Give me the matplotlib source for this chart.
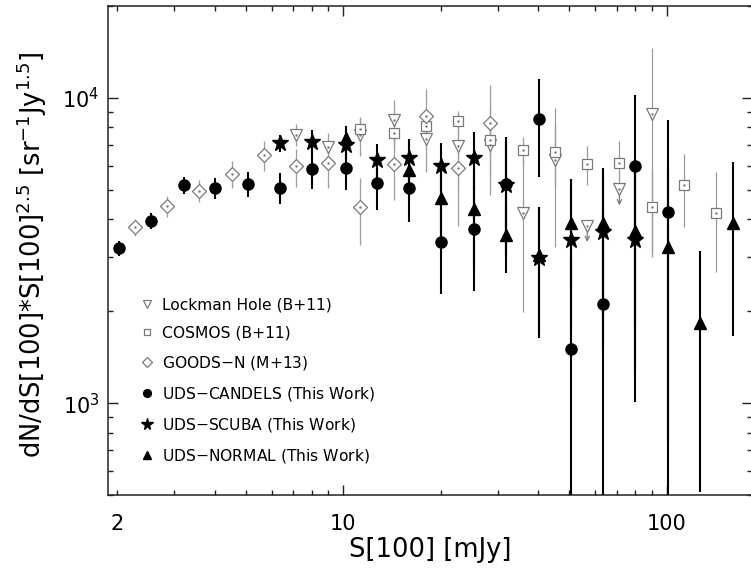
import numpy as np
import matplotlib.pyplot as plt
from matplotlib.ticker import FixedLocator, LogLocator, FuncFormatter, NullFormatter

# Lockman Hole (B+11) - two points are upper limits
lh_s = [7.13, 9.0, 11.3, 14.3, 18.0, 22.6, 28.5, 35.9, 45.1, 56.8, 71.4, 89.9]
lh_n = [7570, 6920, 7570, 8470, 7325, 6960, 7020, 4190, 6240, 3810, 5020, 8860]
lh_e = [630, 770, 1100, 1380, 1600, 1950, 2200, 2200, 3000, 0, 0, 5700]
lh_lim = [False, False, False, False, False, False, False, False, False, True, True, False]

# COSMOS (B+11)
cs_s = [11.3, 14.3, 18.0, 22.6, 28.5, 35.9, 45.1, 56.8, 71.4, 89.9, 113, 142]
cs_n = [7895, 7695, 8095, 8430, 7280, 6760, 6640, 6065, 6140, 4390, 5165, 4190]
cs_e = [700, 800, 800, 600, 800, 700, 1500, 900, 1085, 1370, 1390, 1510]

# GOODS-N (M+13)
gn_s = [2.27, 2.86, 3.59, 4.52, 5.70, 7.13, 9.0, 11.3, 14.3, 18.0, 22.6, 28.5]
gn_n = [3770, 4425, 4965, 5635, 6490, 5960, 6110, 4375, 6085, 8730, 5890, 8300]
gn_e = [250, 340, 420, 560, 750, 840, 1050, 1080, 1470, 2000, 2100, 2700]

# UDS-CANDELS (this work)
cd_s = [2.02, 2.55, 3.21, 4.02, 5.07, 6.37, 8.03, 10.16, 12.7, 16.0, 20.1, 25.3, 31.9, 40.2, 50.5, 63.5, 80.0, 100.9]
cd_n = [3220, 3955, 5180, 5060, 5220, 5070, 5870, 5890, 5280, 5060, 3380, 3725, 5230, 8515, 1500, 2120, 5990, 4225]
cd_e = [180, 240, 340, 390, 500, 590, 850, 900, 1000, 1150, 1100, 1400, 2200, 3000, 1480, 2100, 4200, 4250]

# UDS-SCUBA (this work)
st_s = [6.37, 8.03, 10.16, 12.7, 16.0, 20.1, 25.3, 31.9, 40.2, 50.5, 63.5, 80.0]
st_n = [7110, 7195, 7020, 6270, 6340, 5990, 6340, 5190, 2985, 3425, 3625, 3425]
st_e = [440, 650, 700, 800, 1000, 1150, 1400, 1900, 1350, 1700, 2100, 2420]

# UDS-NORMAL (this work)
tr_s = [10.16, 16.0, 20.1, 25.3, 31.9, 40.2, 50.5, 63.5, 80.0, 100.9, 127, 160]
tr_n = [7380, 5810, 4690, 4315, 3560, 3050, 3905, 3905, 3675, 3245, 1830, 3905]
tr_e = [700, 900, 1300, 1500, 900, 1350, 1500, 2000, 2400, 2500, 1320, 2240]

grey = '#7a7a7a'
grey_bar = '#9c9c9c'

fig = plt.figure(figsize=(7.51, 5.73), dpi=100)
ax = fig.add_axes([108/751, 78/573, 644.5/751, 489/573])
ax.set_xscale('log')
ax.set_yscale('log')

# grey literature points
lh_s = np.array(lh_s); lh_n = np.array(lh_n); lh_e = np.array(lh_e); lh_lim = np.array(lh_lim)
ok = ~lh_lim
ax.errorbar(lh_s[ok], lh_n[ok], yerr=lh_e[ok], fmt='none', ecolor=grey_bar, elinewidth=0.9, zorder=2)
ax.errorbar(cs_s, cs_n, yerr=cs_e, fmt='none', ecolor=grey_bar, elinewidth=0.9, zorder=2)
ax.errorbar(gn_s, gn_n, yerr=gn_e, fmt='none', ecolor=grey_bar, elinewidth=0.9, zorder=2)
for s, n in zip(lh_s[lh_lim], lh_n[lh_lim]):
    ax.annotate('', xy=(s, n*0.885), xytext=(s, n*0.965),
                arrowprops=dict(arrowstyle='->', color=grey, lw=0.9, shrinkA=0, shrinkB=0,
                                mutation_scale=8), zorder=2)

ax.plot(lh_s, lh_n, 'v', ms=8.5, mfc='white', mec=grey, mew=0.9, ls='none', zorder=2.5,
        label='Lockman Hole (B+11)')
ax.plot(cs_s, cs_n, 's', ms=7, mfc='white', mec=grey, mew=0.9, ls='none', zorder=2.5,
        label='COSMOS (B+11)')
ax.plot(gn_s, gn_n, 'D', ms=7, mfc='white', mec=grey, mew=0.9, ls='none', zorder=2.5,
        label='GOODS$-$N (M+13)')
for s, n in [(lh_s, lh_n), (cs_s, cs_n), (gn_s, gn_n)]:
    ax.plot(s, n, '.', ms=1.5, color=grey, ls='none', zorder=2.6)

# this work
ax.errorbar(cd_s, cd_n, yerr=cd_e, fmt='none', ecolor='black', elinewidth=1.5, zorder=3)
ax.errorbar(st_s, st_n, yerr=st_e, fmt='none', ecolor='black', elinewidth=1.5, zorder=3)
ax.errorbar(tr_s, tr_n, yerr=tr_e, fmt='none', ecolor='black', elinewidth=1.5, zorder=3)
ax.plot(cd_s, cd_n, 'o', ms=8, color='black', ls='none', zorder=4, label='UDS$-$CANDELS (This Work)')
ax.plot(st_s, st_n, '*', ms=12, color='black', ls='none', zorder=4, label='UDS$-$SCUBA (This Work)')
ax.plot(tr_s, tr_n, '^', ms=8.5, color='black', ls='none', zorder=4, label='UDS$-$NORMAL (This Work)')

ax.set_xlim(1.873, 184.2)
ax.set_ylim(500, 20000)

ax.xaxis.set_major_locator(FixedLocator([10, 100]))
ax.xaxis.set_major_formatter(FuncFormatter(lambda v, p: '%d' % round(v)))
ax.xaxis.set_minor_locator(LogLocator(base=10, subs=np.arange(2, 10)))
ax.xaxis.set_minor_formatter(FuncFormatter(lambda v, p: '2' if abs(v - 2) < 1e-6 else ''))
ax.yaxis.set_major_locator(FixedLocator([1000, 10000]))
ax.yaxis.set_major_formatter(FuncFormatter(lambda v, p: r'$10^{%d}$' % round(np.log10(v))))
ax.yaxis.set_minor_locator(LogLocator(base=10, subs=np.arange(2, 10)))
ax.yaxis.set_minor_formatter(NullFormatter())

ax.tick_params(which='both', direction='in', top=True, right=True, labelsize=15, color='#222222')
ax.tick_params(which='major', length=7, width=1)
ax.tick_params(which='minor', length=3.5, width=1)
ax.tick_params(axis='x', which='both', pad=14)
ax.tick_params(axis='y', which='both', pad=6)
for sp in ax.spines.values():
    sp.set_linewidth(1.1)
    sp.set_color('#222222')

ax.set_xlabel('S[100] [mJy]', fontsize=18.5, labelpad=2)
ax.set_ylabel(r'dN/dS[100]*S[100]$^{2.5}$ [sr$^{-1}$Jy$^{1.5}$]', fontsize=18.5)
ax.yaxis.set_label_coords(-0.0915, 0.491)

ax.legend(loc='upper left', bbox_to_anchor=(0.048, 0.404), frameon=False, fontsize=11.2,
          markerscale=0.7, handlelength=1.0, handletextpad=0.5, labelspacing=0.84,
          borderpad=0, borderaxespad=0, numpoints=1)

fig.savefig('out.png', dpi=100)
